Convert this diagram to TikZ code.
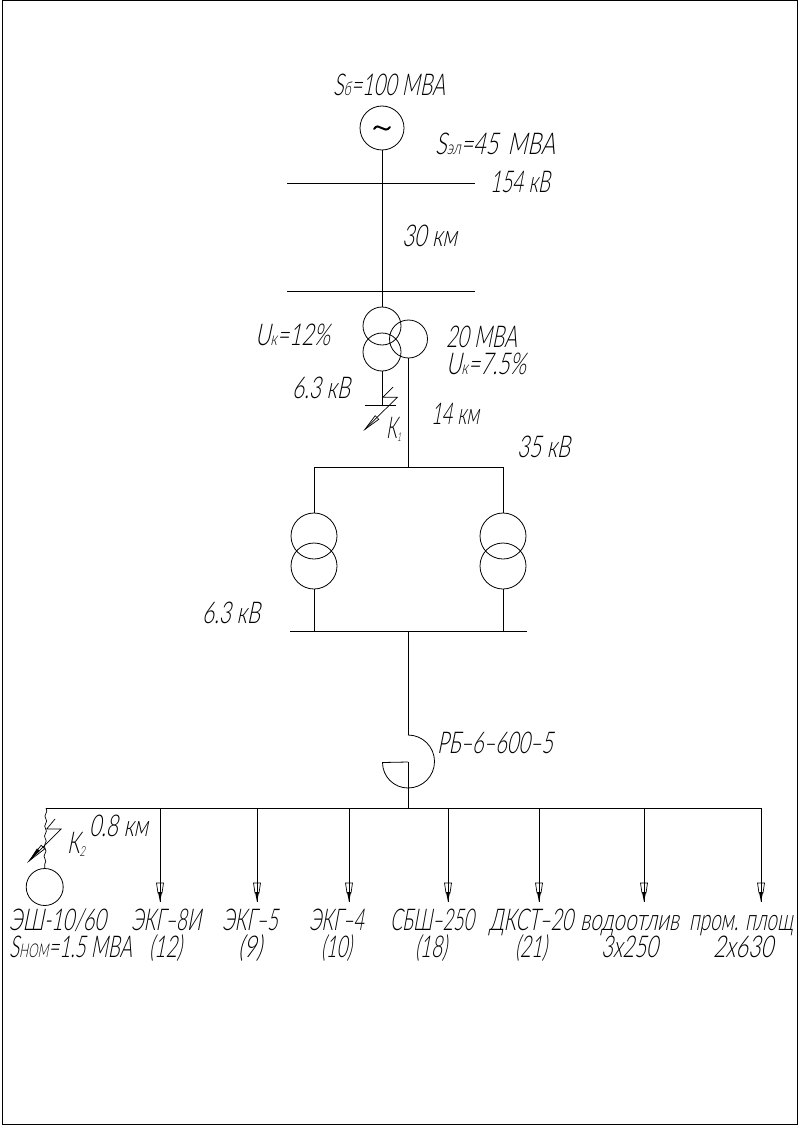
\documentclass[tikz,border=0pt]{standalone}
\usepackage{fontspec}
\newfontfamily\cad[FakeSlant=0.3]{Lato Light}
\usetikzlibrary{decorations.pathmorphing,calc}
\newcommand{\sm}[1]{{\fontsize{19}{19}\selectfont #1}}
\newcommand{\wfit}[2]{\resizebox{#1pt}{\height}{#2}}
\tikzset{
  x=1pt,y=-1pt,
  wire/.style={draw=black,line width=1pt},
  disc/.style={circle,draw=black,line width=0.8pt,inner sep=0pt,fill=none},
  lbl/.style={anchor=base west,inner sep=0pt,outer sep=0pt,xshift=-2pt,text=black,font=\cad\fontsize{30}{30}\selectfont},
  dot/.style={inner sep=0pt,outer sep=0pt,minimum size=0pt}
}
\newcommand{\droparrow}[2]{%
  \coordinate (#1top) at (#2,808);
  \coordinate (#1tip) at (#2,902);
  \draw[wire] (#1top) -- (#1tip);
  \draw[line width=0.7pt] ($(#1tip)+(-3.5,-19)$) -- ($(#1tip)+(3.5,-19)$) -- ($(#1tip)+(2,-9)$) -- ($(#1tip)+(-2,-9)$) -- cycle;
  \fill ($(#1tip)+(-2,-10)$) -- ($(#1tip)+(2,-10)$) -- (#1tip) -- cycle;
}
\begin{document}
\begin{tikzpicture}
\useasboundingbox (0,0) rectangle (800,1126);
\fill[white] (0,0) rectangle (800,1126);
\node[dot,draw=none] (fa) at (2,1) {};
\node[dot,draw=none] (fb) at (797,1124) {};
\draw[line width=1pt] (fa) rectangle (fb);

% source
\node[disc,minimum size=44pt] (gen) at (382,128) {};
\draw[line width=2pt,line cap=round] (374,129) .. controls (379,121) and (384,135) .. (390,127);
\coordinate (busAl) at (287,184); \coordinate (busAr) at (475,184);
\draw[wire] (busAl) -- (busAr);
\coordinate (busBl) at (287,291); \coordinate (busBr) at (475,291);
\draw[wire] (busBl) -- (busBr);
\coordinate (busBm) at (382,291);
\draw[wire] (gen.south) -- (busBm);

% three winding transformer
\node[disc,minimum size=38pt] (tA) at (382,326) {};
\node[disc,minimum size=38pt] (tB) at (382,352) {};
\node[disc,minimum size=38pt] (tC) at (408.5,339) {};
\draw[wire] (busBm) -- (tA.north);
\coordinate (barL) at (365,405); \coordinate (barR) at (396,405); \coordinate (barM) at (382,405);
\draw[wire] (tB.south) -- (barM);
\draw[wire] (barL) -- (barR);
\coordinate (k1a) at (393,387); \coordinate (k1b) at (382.7,397.3); \coordinate (k1c) at (397.3,397.3); \coordinate (k1d) at (365,429.3);
\draw[line width=0.7pt] (k1a) -- (k1b) -- (k1c) -- (k1d);
\draw[line width=0.7pt] (378.8,419.3) -- (375.2,415.7) -- (k1d) -- cycle;

% 35 kV bus
\coordinate (b35l) at (314,467); \coordinate (b35m) at (408.5,467); \coordinate (b35r) at (503,467);
\draw[wire] (tC.south) -- (b35m);
\draw[wire] (b35l) -- (b35r);
\node[disc,minimum size=46pt] (lA) at (314,536) {};
\node[disc,minimum size=46pt] (lB) at (314,566) {};
\node[disc,minimum size=46pt] (rA) at (503,536) {};
\node[disc,minimum size=46pt] (rB) at (503,566) {};
\draw[wire] (b35l) -- (lA.north);
\draw[wire] (b35r) -- (rA.north);
\coordinate (b6l) at (290,631); \coordinate (b6r) at (527,631);
\coordinate (b6a) at (314,631); \coordinate (b6b) at (503,631); \coordinate (b6m) at (408,631);
\draw[wire] (b6l) -- (b6r);
\draw[wire] (lB.south) -- (b6a);
\draw[wire] (rB.south) -- (b6b);

% disconnector
\coordinate (ra) at (408,735);
\coordinate (rb) at (408,762);
\coordinate (rc) at (408,808);
\coordinate (rd) at (408,788);
\draw[wire] (b6m) -- (ra);
\draw[line width=0.8pt] (ra) arc[start angle=-90,end angle=90,radius=26.5];
\draw[line width=0.8pt] (rd) arc[start angle=90,end angle=180,radius=25.5] -- (rb);
\draw[wire] (rb) -- (rc);

% main bus
\coordinate (mL) at (46,808); \coordinate (mR) at (761,808);
\draw[wire] (mL) -- (mR);
\droparrow{da}{160}
\droparrow{db}{257}
\droparrow{dc}{349}
\droparrow{dd}{448}
\droparrow{de}{539}
\droparrow{df}{644}
\droparrow{dg}{761}

% excavator branch
\node[disc,minimum size=37pt] (exc) at (44.7,887) {};
\draw[line width=0.7pt,decorate,decoration={snake,amplitude=0.9pt,segment length=10pt}] (mL) -- (exc.north);
\coordinate (k2a) at (55,819); \coordinate (k2b) at (46.7,829); \coordinate (k2c) at (61,829); \coordinate (k2d) at (29,861);
\draw[line width=0.7pt] (k2a) -- (k2b) -- (k2c) -- (k2d);
\draw[line width=0.7pt] (44.8,848.8) -- (41.2,845.2) -- (k2d) -- cycle;
\fill (39.6,851) -- (37,848.4) -- (k2d) -- cycle;

% labels
\node[lbl] (t1) at (335,96) {\wfit{112}{S\sm{б}=100 МВА}};
\node[lbl] (t2) at (437,155) {\wfit{120}{S\sm{эл}=45 \,МВА}};
\node[lbl] (t3) at (492,193) {\wfit{60}{154 кВ}};
\node[lbl] (t4) at (404,246) {\wfit{55}{30 км}};
\node[lbl] (t5) at (257,345) {\wfit{75}{U\sm{к}=12\%}};
\node[lbl] (t6) at (448,347) {\wfit{71}{20 МВА}};
\node[lbl] (t7) at (448,374) {\wfit{80}{U\sm{к}=7.5\%}};
\node[lbl] (t8) at (294,398) {\wfit{58}{6.3 кВ}};
\node[lbl] (t9) at (388,438) {\wfit{15}{К\raisebox{-3pt}{\fontsize{12}{12}\selectfont 1}}};
\node[lbl] (t10) at (433,424) {\wfit{48}{14 км}};
\node[lbl] (t11) at (519,457) {\wfit{53}{35 кВ}};
\node[lbl] (t12) at (204,623) {\wfit{58}{6.3 кВ}};
\node[lbl] (t13) at (439,753) {\wfit{116}{РБ–6–600–5}};
\node[lbl] (t14) at (91,836) {\wfit{59}{0.8 км}};
\node[lbl] (t15) at (69,853) {\wfit{18}{К\raisebox{-3pt}{\fontsize{14}{14}\selectfont 2}}};
\node[lbl] (b1) at (11,930) {\wfit{97}{ЭШ-10/60}};
\node[lbl] (b2) at (11,957) {\wfit{123}{S\sm{НОМ}=1.5 МВА}};
\node[lbl] (b3) at (133,930) {\wfit{70}{ЭКГ–8И}};
\node[lbl] (b4) at (151,957) {\wfit{33}{(12)}};
\node[lbl] (b5) at (224,930) {\wfit{56}{ЭКГ–5}};
\node[lbl] (b6) at (240,957) {\wfit{24}{(9)}};
\node[lbl] (b7) at (311,930) {\wfit{55}{ЭКГ–4}};
\node[lbl] (b8) at (323,957) {\wfit{31}{(10)}};
\node[lbl] (b9) at (392,930) {\wfit{84}{СБШ–250}};
\node[lbl] (b10) at (417,957) {\wfit{32}{(18)}};
\node[lbl] (b11) at (491,930) {\wfit{84}{ДКСТ–20}};
\node[lbl] (b12) at (517,957) {\wfit{32}{(21)}};
\node[lbl] (b13) at (582,930) {\wfit{99}{водоотлив}};
\node[lbl] (b14) at (603,957) {\wfit{57}{3x250}};
\node[lbl] (b15) at (691,930) {\wfit{104}{пром. площ}};
\node[lbl] (b16) at (715,957) {\wfit{60}{2x630}};
\end{tikzpicture}
\end{document}
